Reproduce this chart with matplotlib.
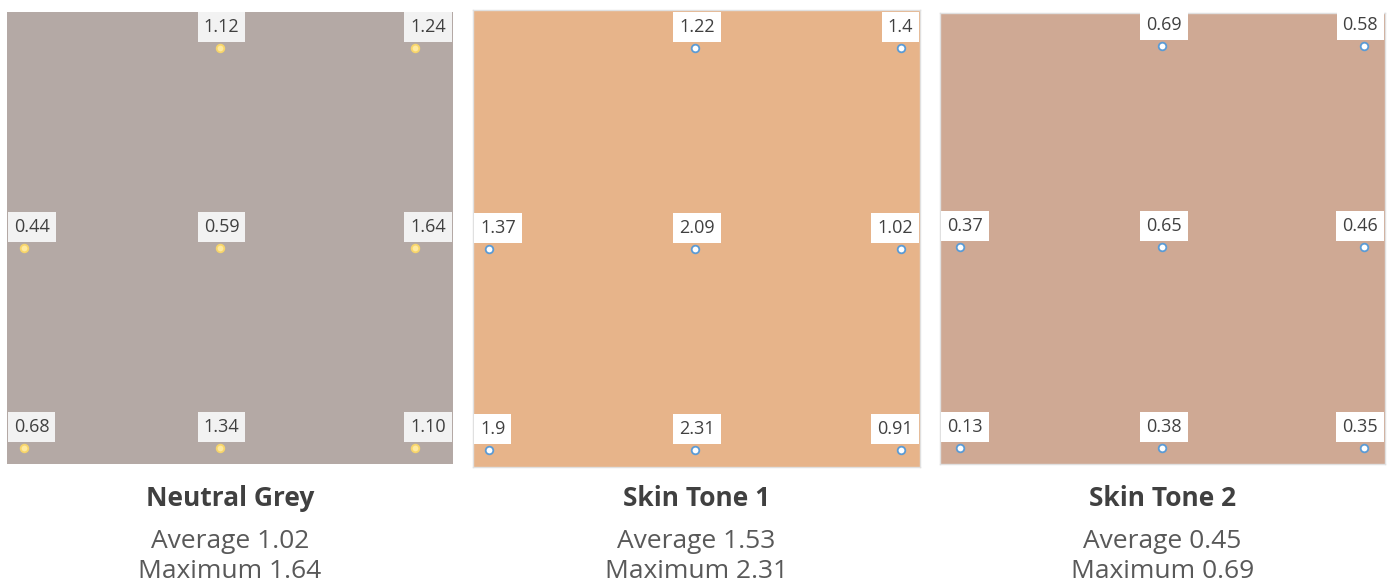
import matplotlib
matplotlib.use("Agg")
import matplotlib.pyplot as plt

plt.rcParams['font.family'] = ['Open Sans', 'DejaVu Sans']

# one list per panel, grid read top row first, left to right; None = no point
titles = ["Neutral Grey", "Skin Tone 1", "Skin Tone 2"]
grey_labels = [None, "1.12", "1.24",
               "0.44", "0.59", "1.64",
               "0.68", "1.34", "1.10"]
skin1_labels = [None, "1.22", "1.4",
                "1.37", "2.09", "1.02",
                "1.9", "2.31", "0.91"]
skin2_labels = [None, "0.69", "0.58",
                "0.37", "0.65", "0.46",
                "0.13", "0.38", "0.35"]
panel_labels = [grey_labels, skin1_labels, skin2_labels]
grid_cols = [0, 1, 2, 0, 1, 2, 0, 1, 2]
grid_rows = [2, 2, 2, 1, 1, 1, 0, 0, 0]

# styling / layout (pixels of a 1391x586 canvas)
W, H = 1391, 586
boxes = [(7, 453, 12, 464), (473, 920, 10, 467), (940, 1385, 13, 464)]
xlims = [(-0.087, 2.194), (-0.078, 2.092), (-0.099, 2.104)]
ylims = [(-0.08, 2.18), (-0.085, 2.19), (-0.08, 2.164)]
faces = ["#b4a9a5", "#e7b48a", "#cfa994"]
borders = [None, "#e0e0e0", "#e0e0e0"]
label_bg = ["#f2f2f2", "#ffffff", "#ffffff"]
marker_face = ["#ffeaa0", "#ffffff", "#ffffff"]
marker_edge = ["#f7d56a", "#5b9bd5", "#5b9bd5"]

fig = plt.figure(figsize=(W / 100, H / 100), dpi=100)

for i, labels in enumerate(panel_labels):
    l, r, t, b = boxes[i]
    ax = fig.add_axes([l / W, 1 - b / H, (r - l) / W, (b - t) / H])
    ax.set_facecolor(faces[i])
    ax.set_xlim(*xlims[i])
    ax.set_ylim(*ylims[i])
    ax.set_xticks([])
    ax.set_yticks([])
    for s in ax.spines.values():
        if borders[i] is None:
            s.set_visible(False)
        else:
            s.set_color(borders[i])
            s.set_linewidth(1.0)

    xs = [c for c, lab in zip(grid_cols, labels) if lab is not None]
    ys = [rw for rw, lab in zip(grid_rows, labels) if lab is not None]
    vals = [float(lab) for lab in labels if lab is not None]
    ax.scatter(xs, ys, s=30, facecolor=marker_face[i], edgecolor=marker_edge[i],
               linewidth=1.3, zorder=3)

    for c, rw, lab in zip(grid_cols, grid_rows, labels):
        if lab is None:
            continue
        if c == 0:
            xy, xc, ha, dx = (0, rw), ('axes fraction', 'data'), 'left', 7
        elif c == 1:
            xy, xc, ha, dx = (c, rw), ('data', 'data'), 'center', 2
        else:
            xy, xc, ha, dx = (1, rw), ('axes fraction', 'data'), 'right', -7
        ax.annotate(lab, xy=xy, xycoords=xc, xytext=(dx, 21),
                    textcoords='offset pixels', ha=ha, va='center',
                    fontsize=13, color="#404040", zorder=4,
                    bbox=dict(boxstyle='square,pad=0.33', fc=label_bg[i], ec='none'))

    cx = (l + r) / 2 / W
    avg = sum(vals) / len(vals)
    fig.text(cx, 1 - 499 / H, titles[i], ha='center', va='center',
             fontsize=19, fontweight='bold', color="#404040")
    fig.text(cx, 1 - 541 / H, f"Average {avg:.2f}", ha='center', va='center',
             fontsize=19, color="#595959")
    fig.text(cx, 1 - 572 / H, f"Maximum {max(vals):.2f}", ha='center', va='center',
             fontsize=19, color="#595959")

fig.savefig("out.png", dpi=100, facecolor="white")
